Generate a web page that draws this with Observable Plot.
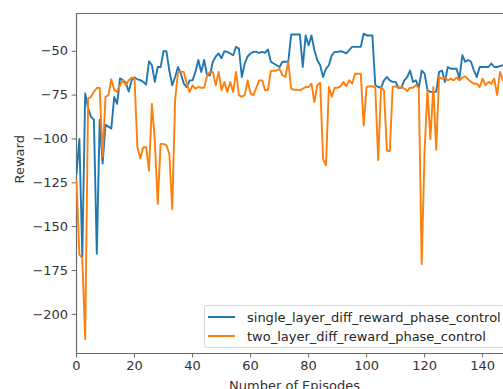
<!DOCTYPE html>
<html>
<head>
<meta charset="utf-8">
<script src="https://cdn.jsdelivr.net/npm/d3@7"></script>
<script src="https://cdn.jsdelivr.net/npm/@observablehq/plot@0.6"></script>
<style>
  html, body { margin: 0; padding: 0; background: #fff; }
  body { width: 503px; height: 389px; overflow: hidden; font-family: "DejaVu Sans", sans-serif; }
  #wrap { position: relative; width: 503px; height: 389px; }
  .legend { position: absolute; left: 204px; top: 305px; width: 330px; height: 43px; box-sizing: border-box;
            border: 1px solid #d4d4d4; border-radius: 3px; background: rgba(255,255,255,0.85); }
  .row { position: absolute; left: 3px; height: 19px; display: flex; align-items: center;
         font-size: 13px; color: #262626; white-space: nowrap; }
  .sw { width: 27px; height: 2px; margin-right: 12px; }
</style>
</head>
<body>
<div id="wrap"></div>
<script>
const seriesNames = ["single_layer_diff_reward_phase_control", "two_layer_diff_reward_phase_control"];
const seriesColors = ["#1f77b4", "#ff7f0e"];
const xTicks = [0, 20, 40, 60, 80, 100, 120, 140];
const yTicks = [-50, -75, -100, -125, -150, -175, -200];
const xDomain = [0, 147.2];
const yDomain = [-222.3, -28.5];

const singleLayer = [
  -120, -100, -167, -74, -82.6, -87.5, -89, -165.5, -89, -114,
  -92, -93, -94, -76, -80, -65.5, -66.5, -68, -73, -66.5,
  -65, -66, -66.5, -67.5, -69, -55.7, -58, -67.5, -59, -59,
  -50, -50, -61, -69.4, -64.7, -59, -62.8, -68.5, -70.4, -66.6,
  -66.6, -61.8, -55, -61.8, -55, -63.7, -63.7, -56, -53, -51.3,
  -54, -50, -50.4, -51.3, -52.3, -47.5, -48.5, -64.7, -57, -53,
  -51.3, -50.4, -50.4, -51, -50.4, -51, -49, -56, -57, -58,
  -59, -56, -56, -56, -40.5, -40.5, -40.5, -40.5, -59, -41,
  -46.6, -41, -49.4, -55, -58, -64.7, -60, -58, -52.3, -50.4,
  -50.4, -50, -50.4, -51.3, -49.4, -47.5, -47.5, -47.5, -47.5, -40,
  -41, -41, -41, -69.4, -70.4, -70.8, -66.6, -64.7, -66.6, -67.5,
  -67.5, -70.8, -70.8, -66.6, -64.7, -61, -67.5, -66.6, -70.8, -61,
  -62.8, -72.3, -73.2, -73.2, -73.2, -61.8, -61, -67.5, -59, -60,
  -60, -60, -65.6, -52.3, -56, -55, -56, -61, -64.7, -59,
  -59, -59, -59, -57, -59, -59, -58.5, -58
];
const twoLayer = [
  -124, -166, -168, -214, -77, -76, -73, -71, -71, -110,
  -76, -75, -66, -72, -73, -69.4, -66.6, -69.4, -66.6, -65,
  -65.6, -104.7, -111, -104.7, -104.7, -118, -80, -101, -137, -102.8,
  -102.8, -103.7, -108.5, -140, -78, -61.8, -61.8, -61.8, -68.5, -73.2,
  -69.4, -71.3, -70.4, -70.8, -70.8, -63.7, -61.8, -61.8, -69.4, -61.8,
  -72.3, -67.5, -73.2, -67.5, -73.2, -61.8, -75, -76, -75, -66.6,
  -74, -75, -70.8, -66.6, -66.6, -72.3, -72, -61.2, -61.2, -61,
  -60, -63.7, -64.7, -56, -71.3, -72, -72, -72.3, -71.3, -70.4,
  -70.4, -68.5, -79, -69.4, -68, -111.3, -115, -70.4, -76, -70.8,
  -70.8, -70, -67.5, -70, -66.6, -68.5, -62.8, -62.8, -62.8, -92.3,
  -70.4, -70, -70, -70.8, -112, -70.4, -72.3, -106.6, -107, -70.4,
  -70, -70.8, -70.4, -71.3, -72.7, -70.8, -70.8, -69.4, -70.8, -171.3,
  -106.6, -72, -100, -70.4, -106.2, -64.7, -65.6, -65, -66.6, -65.6,
  -66.6, -65, -66.6, -65, -64.3, -66, -67.5, -68.5, -68.5, -70.4,
  -65.6, -69.4, -67.5, -68.5, -65.6, -75, -61.8, -66.6
];

const ink = "#333";
const spine = "#6a6a6a";

const chart = Plot.plot({
  width: 503,
  height: 389,
  marginLeft: 76,
  marginRight: 0,
  marginTop: 13,
  marginBottom: 36,
  style: { fontFamily: "DejaVu Sans, sans-serif", fontSize: "13px", color: ink, background: "#fff", overflow: "hidden" },
  x: { domain: xDomain },
  y: { domain: yDomain },
  marks: [
    Plot.ruleY([yDomain[1]], { stroke: spine, strokeWidth: 1.2 }),
    Plot.ruleY([yDomain[0]], { stroke: spine, strokeWidth: 1.2 }),
    Plot.ruleX([xDomain[0]], { stroke: spine, strokeWidth: 1.2 }),
    Plot.axisY({ ticks: yTicks, tickSize: 4.4, tickPadding: 4, stroke: spine, fill: ink, label: null }),
    Plot.axisX({ ticks: xTicks, tickSize: 4.4, tickPadding: 3, stroke: spine, fill: ink, label: null }),
    Plot.lineY(singleLayer, { stroke: seriesColors[0], strokeWidth: 1.9, clip: true }),
    Plot.lineY(twoLayer, { stroke: seriesColors[1], strokeWidth: 1.9, clip: true }),
    Plot.text(["Reward"], { text: d => d, frameAnchor: "left", rotate: -90, dx: -57, fill: ink, fontSize: 13 }),
    Plot.text(["Number of Episodes"], { text: d => d, frameAnchor: "bottom", lineAnchor: "top", dy: 27, dx: 4.5, fill: ink, fontSize: 13 })
  ]
});

const wrap = document.getElementById("wrap");
wrap.appendChild(chart);

const legend = document.createElement("div");
legend.className = "legend";
seriesNames.forEach((name, i) => {
  const row = document.createElement("div");
  row.className = "row";
  row.style.top = (1.5 + i * 19) + "px";
  const sw = document.createElement("span");
  sw.className = "sw";
  sw.style.background = seriesColors[i];
  const label = document.createElement("span");
  label.textContent = name;
  row.appendChild(sw);
  row.appendChild(label);
  legend.appendChild(row);
});
wrap.appendChild(legend);
</script>
</body>
</html>
